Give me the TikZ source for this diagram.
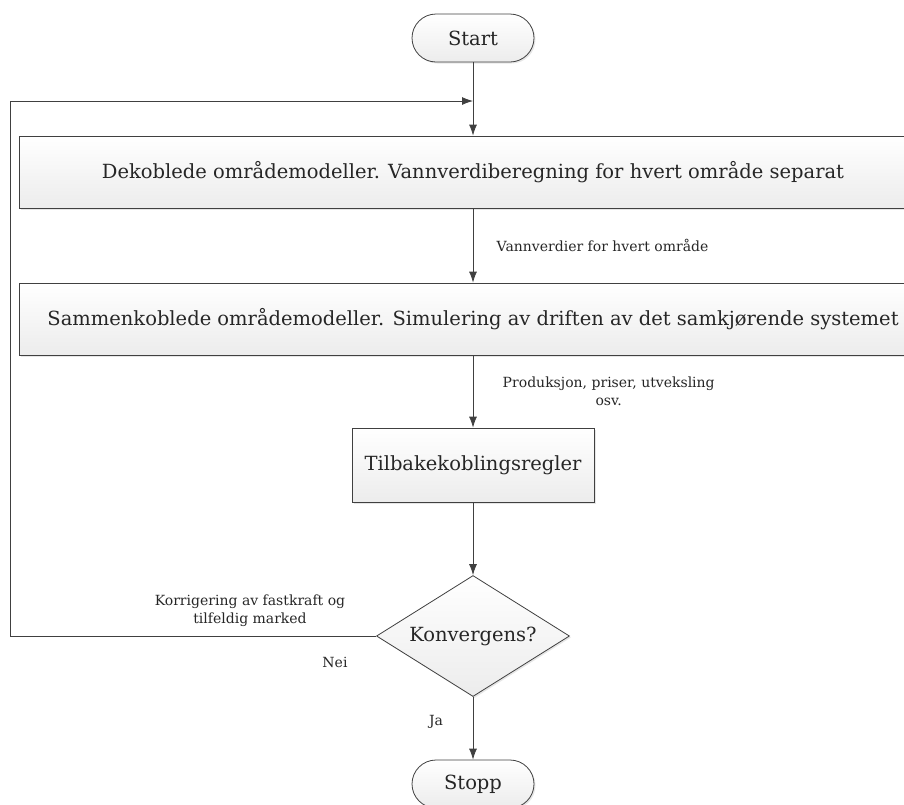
\documentclass[tikz,border=0pt]{standalone}
\usepackage{fontspec}
\setmainfont{DejaVu Serif}
\usetikzlibrary{positioning,arrows.meta,shapes.geometric,shadows}

\definecolor{linegray}{HTML}{404040}
\definecolor{boxgray}{HTML}{ECECEC}

\begin{document}
\begin{tikzpicture}[
  x=1pt,y=1pt,
  font=\fontsize{19.5}{22}\selectfont,
  every node/.style={text=black!85},
  term/.style={draw=linegray,line width=0.8pt,rounded corners=24pt,minimum width=122pt,minimum height=48pt,
    top color=white,bottom color=boxgray,drop shadow={opacity=0.2,shadow xshift=1.5pt,shadow yshift=-1.5pt}},
  block/.style={draw=linegray,line width=0.8pt,minimum height=72pt,
    top color=white,bottom color=boxgray,drop shadow={opacity=0.2,shadow xshift=1.5pt,shadow yshift=-1.5pt}},
  decision/.style={draw=linegray,line width=0.8pt,diamond,aspect=1.6,inner sep=0pt,minimum width=193pt,minimum height=121pt,
    top color=white,bottom color=boxgray,drop shadow={opacity=0.2,shadow xshift=1.5pt,shadow yshift=-1.5pt}},
  arrow/.style={-{Latex[length=11pt,width=8pt]},draw=linegray,line width=0.8pt},
  label/.style={font=\fontsize{14}{18}\selectfont,align=center},
]
  \useasboundingbox (0,0) rectangle (904,-804);

  % Flow from start to stop.
  \node[term] (start) at (473,-38) {Start};
  \node[block,minimum width=908pt] (b1) at (473,-172)
    {Dekoblede områdemodeller. Vannverdiberegning for hvert område separat};
  \node[block,minimum width=908pt] (b2) at (473,-319)
    {Sammenkoblede områdemodeller. Simulering av driften av det samkjørende systemet};
  \node[block,minimum width=242pt,minimum height=74pt] (b3) at (473,-465) {Tilbakekoblingsregler};
  \node[decision] (conv) at (473,-636) {Konvergens?};
  \node[term] (stop) at (473,-784) {Stopp};

  \draw[arrow] (start) -- (b1);
  \draw[arrow] (b1) -- (b2) node[midway,right=20pt,label] {Vannverdier for hvert område};
  \draw[arrow] (b2) -- (b3) node[midway,right=26pt,label] {Produksjon, priser, utveksling\\osv.};
  \draw[arrow] (b3) -- (conv);
  \draw[arrow] (conv) -- (stop);

  % Loop back when not converged.
  \coordinate (back) at (10,-101);
  \coordinate (join) at (473,-101);
  \draw[arrow] (conv.west) -| (back) -- (join);

  \node[label] (korr) at (250,-611) {Korrigering av fastkraft og\\tilfeldig marked};
  \node[label] (nei) at (335,-662) {Nei};
  \node[label] (ja) at (436,-722) {Ja};

\end{tikzpicture}
\end{document}
